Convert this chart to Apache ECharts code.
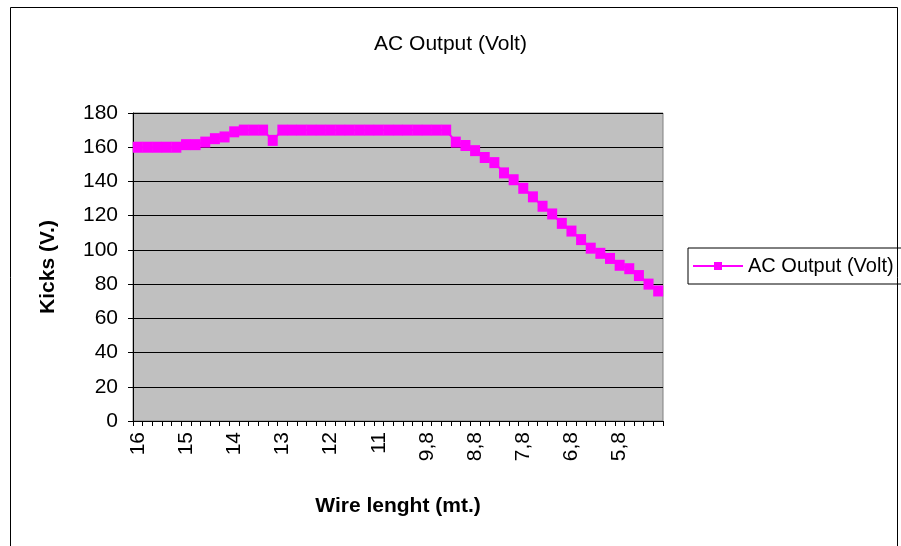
<!DOCTYPE html>
<html>
<head>
<meta charset="utf-8">
<script src="https://cdn.jsdelivr.net/npm/echarts@6/dist/echarts.min.js"></script>
<style>
html,body{margin:0;padding:0;background:#fff;}
#chart{width:901px;height:546px;}
</style>
</head>
<body>
<div id="chart"></div>
<script>
const categories = [
  "16","15,8","15,6","15,4","15,2","15","14,8","14,6","14,4","14,2",
  "14","13,8","13,6","13,4","13,2","13","12,8","12,6","12,4","12,2",
  "12","11,8","11,6","11,4","11,2","11","10,7","10,4","10,2","10",
  "9,8","9,6","9,4","9,2","9","8,8","8,6","8,4","8,2","8",
  "7,8","7,6","7,4","7,2","7","6,8","6,6","6,4","6,2","6",
  "5,8","5,6","5,4","5,2","5"
];
const acOutput = [
  160,160,160,160,160,161.5,161.5,163,165,166,
  169,170,170,170,164,170,170,170,170,170,
  170,170,170,170,170,170,170,170,170,170,
  170,170,170,163,161,158,154,151,145,141,
  136,131,125.5,121,115.5,111,106,101,98,95,
  91,89,85,80,76
];
const yTicks = { min: 0, max: 180, interval: 20 };
const seriesName = "AC Output (Volt)";

const chart = echarts.init(document.getElementById('chart'), null, { renderer: 'canvas' });
const font = 'Liberation Sans, Arial, sans-serif';
chart.setOption({
  animation: false,
  backgroundColor: '#fff',
  textStyle: { fontFamily: font, color: '#000' },
  title: {
    text: 'AC Output (Volt)',
    left: 'center', top: 29,
    textStyle: { fontFamily: font, fontSize: 21, fontWeight: 'normal', color: '#000' }
  },
  graphic: [{
    type: 'rect', shape: { x: 10.5, y: 7.5, width: 887, height: 560 },
    style: { fill: null, stroke: '#000', lineWidth: 1 }, z: -1
  }],
  legend: {
    left: 688, top: 248,
    padding: [8, 30, 8, 4],
    itemWidth: 50, itemHeight: 10, itemGap: 5,
    borderColor: '#000', borderWidth: 1,
    textStyle: { fontFamily: font, fontSize: 20, color: '#000' },
    data: [seriesName]
  },
  grid: {
    left: 133, right: 238, top: 113, bottom: 125,
    show: true, backgroundColor: '#C0C0C0', borderColor: '#808080', borderWidth: 1
  },
  xAxis: {
    type: 'category', data: categories, boundaryGap: true,
    name: 'Wire lenght (mt.)', nameLocation: 'middle', nameGap: 75,
    nameTextStyle: { fontFamily: font, fontSize: 21, fontWeight: 'bold', color: '#000' },
    axisLine: { lineStyle: { color: '#000', width: 1 } },
    axisTick: { show: true, interval: 0, length: 5, lineStyle: { color: '#000' } },
    axisLabel: { interval: 4, rotate: 90, margin: 11, fontSize: 21, fontFamily: font, color: '#000' },
    splitLine: { show: false }
  },
  yAxis: {
    type: 'value', min: yTicks.min, max: yTicks.max, interval: yTicks.interval,
    name: 'Kicks (V.)', nameLocation: 'middle', nameGap: 74,
    nameTextStyle: { fontFamily: font, fontSize: 21, fontWeight: 'bold', color: '#000' },
    axisLine: { show: true, lineStyle: { color: '#000', width: 1 } },
    axisTick: { show: true, length: 5, lineStyle: { color: '#000' } },
    axisLabel: { fontSize: 21, margin: 15, fontFamily: font, color: '#000' },
    splitLine: { show: true, lineStyle: { color: '#000', width: 1 } }
  },
  series: [{
    name: seriesName, type: 'line', data: acOutput,
    symbol: 'rect', symbolSize: [10, 11], showSymbol: true, showAllSymbol: true,
    lineStyle: { color: '#FF00FF', width: 2 },
    itemStyle: { color: '#FF00FF' }
  }]
});
</script>
</body>
</html>
